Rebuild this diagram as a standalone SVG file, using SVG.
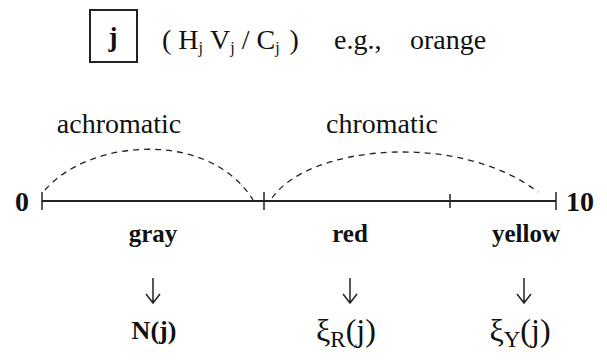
<svg xmlns="http://www.w3.org/2000/svg" width="607" height="363" viewBox="0 0 607 363">
<style>
text{font-family:"Liberation Serif","Times New Roman",serif;fill:#111}
.b{font-weight:bold}
.arc{fill:none;stroke:#222;stroke-width:1.3;stroke-dasharray:6,5}
.ax{stroke:#222;stroke-width:2;fill:none}
.tk{stroke:#222;stroke-width:1.5}
.ar{stroke:#222;stroke-width:1.5;fill:none}
</style>
<rect width="607" height="363" fill="#fff"/>
<g id="header">
<rect x="90" y="10" width="47" height="52" fill="none" stroke="#222" stroke-width="2"/>
<text x="113" y="46" class="b" font-size="27" text-anchor="middle">j</text>
<text x="162" y="49" font-size="28">( H<tspan font-size="16" dy="4">j</tspan><tspan dy="-4" dx="7">V</tspan><tspan font-size="16" dy="4">j</tspan><tspan dy="-4"> / C</tspan><tspan font-size="16" dy="4">j</tspan><tspan dy="-4" dx="3"> )</tspan></text>
<text x="334" y="49" font-size="28">e.g.,</text>
<text x="410" y="49" font-size="28">orange</text>
</g>
<g id="labels">
<text x="119" y="133" font-size="28" text-anchor="middle">achromatic</text>
<text x="382" y="133" font-size="28" text-anchor="middle">chromatic</text>
</g>
<g id="connectors">
<path class="arc" d="M45,190 C90,138 210,130 253,200"/>
<path class="arc" d="M272,198 C310,144 460,132 538,192"/>
<line class="ax" x1="42" y1="201" x2="556" y2="201"/>
<line class="tk" x1="42" y1="192" x2="42" y2="210"/>
<line class="tk" x1="264" y1="192" x2="264" y2="210"/>
<line class="tk" x1="450" y1="194" x2="450" y2="208"/>
<line class="tk" x1="556" y1="192" x2="556" y2="210"/>
</g>
<g id="axis-ends">
<text x="22" y="211" class="b" font-size="28" text-anchor="middle">0</text>
<text x="580" y="211" class="b" font-size="28" text-anchor="middle">10</text>
</g>
<g id="gray">
<text x="153" y="242" class="b" font-size="25" text-anchor="middle">gray</text>
<path class="ar" d="M153,278 V302 M146,294 L153,303 L160,294"/>
<text x="154" y="339" class="b" font-size="26" text-anchor="middle">N(j)</text>
</g>
<g id="red">
<text x="350" y="242" class="b" font-size="25" text-anchor="middle">red</text>
<path class="ar" d="M350,278 V302 M343,294 L350,303 L357,294"/>
<text x="346" y="341" font-size="32" text-anchor="middle">ξ<tspan font-size="23" dy="6">R</tspan><tspan dy="-6">(j)</tspan></text>
</g>
<g id="yellow">
<text x="526" y="242" class="b" font-size="25" text-anchor="middle">yellow</text>
<path class="ar" d="M524,278 V302 M517,294 L524,303 L531,294"/>
<text x="520" y="341" font-size="32" text-anchor="middle">ξ<tspan font-size="23" dy="6">Y</tspan><tspan dy="-6">(j)</tspan></text>
</g>
</svg>
